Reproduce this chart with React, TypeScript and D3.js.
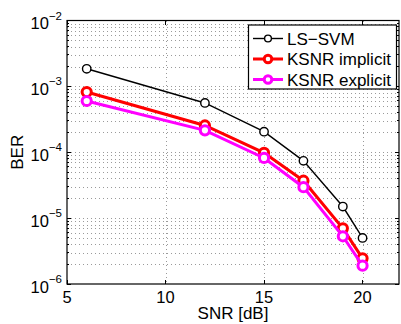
import React from "react";
import * as d3 from "d3";

// SNR values (dB) and BER per method
const snr = [6, 12, 15, 17, 19, 20];
const berLsSvm = [1.85e-3, 5.6e-4, 2.05e-4, 7.4e-5, 1.5e-5, 5.0e-6];
const berImplicit = [8.2e-4, 2.55e-4, 9.8e-5, 3.7e-5, 7.0e-6, 2.45e-6];
const berExplicit = [6.0e-4, 2.15e-4, 8.2e-5, 2.95e-5, 5.3e-6, 1.9e-6];

const seriesNames = ["LS\u2212SVM", "KSNR implicit", "KSNR explicit"];
const xTicks = [5, 10, 15, 20];
const yExponents = [-2, -3, -4, -5, -6];

const W = 401;
const H = 324;
const plot = { left: 67, right: 399, top: 20.5, bottom: 284 };
const font = "'Liberation Sans', Arial, Helvetica, sans-serif";

export default function App() {
  const x = d3.scaleLinear().domain([5, 21.85]).range([plot.left, plot.right]);
  const y = d3.scaleLog().domain([1e-6, 1e-2]).range([plot.bottom, plot.top]);

  const series = [
    { name: seriesNames[0], values: berLsSvm, color: "#000000", width: 1.4, r: 4.2 },
    { name: seriesNames[1], values: berImplicit, color: "#ff0000", width: 3, r: 4.6 },
    { name: seriesNames[2], values: berExplicit, color: "#ff00ff", width: 3, r: 4.6 },
  ];

  const line = d3
    .line<[number, number]>()
    .x((d) => x(d[0]))
    .y((d) => y(d[1]));

  // minor log ticks 2..9 in each decade
  const minor: number[] = [];
  for (let e = -6; e < -2; e++) {
    for (let m = 2; m <= 9; m++) minor.push(m * Math.pow(10, e));
  }
  const major = yExponents.map((e) => Math.pow(10, e));

  const grid = { stroke: "#9a9a9a", strokeWidth: 1, strokeDasharray: "1,3" };

  return (
    <svg
      width={W}
      height={H}
      style={{ position: "absolute", left: 0, top: 0, background: "#fff" }}
      fontFamily={font}
    >
      <rect x={0} y={0} width={W} height={H} fill="#fff" />
      {/* grid */}
      <g shapeRendering="crispEdges">
        {[...minor, ...major.slice(1, -1)].map((v, i) => (
          <line key={"gy" + i} x1={plot.left} x2={plot.right} y1={Math.round(y(v)) + 0.5} y2={Math.round(y(v)) + 0.5} {...grid} />
        ))}
        {xTicks.slice(1).map((v) => (
          <line key={"gx" + v} x1={Math.round(x(v)) + 0.5} x2={Math.round(x(v)) + 0.5} y1={plot.top} y2={plot.bottom} {...grid} />
        ))}
      </g>
      {/* ticks */}
      <g stroke="#000" strokeWidth={1} shapeRendering="crispEdges">
        {xTicks.map((v) => (
          <g key={"tx" + v}>
            <line x1={x(v)} x2={x(v)} y1={plot.bottom} y2={plot.bottom - 4} />
            <line x1={x(v)} x2={x(v)} y1={plot.top} y2={plot.top + 4} />
          </g>
        ))}
        {major.map((v) => (
          <g key={"ty" + v}>
            <line x1={plot.left} x2={plot.left + 4} y1={y(v)} y2={y(v)} />
            <line x1={plot.right} x2={plot.right - 4} y1={y(v)} y2={y(v)} />
          </g>
        ))}
        {minor.map((v, i) => (
          <g key={"tm" + i}>
            <line x1={plot.left} x2={plot.left + 2} y1={y(v)} y2={y(v)} />
            <line x1={plot.right} x2={plot.right - 2} y1={y(v)} y2={y(v)} />
          </g>
        ))}
      </g>
      {/* data */}
      {series.map((s) => {
        const pts = snr.map((v, i) => [v, s.values[i]] as [number, number]);
        return (
          <g key={s.name}>
            <path d={line(pts) || ""} fill="none" stroke={s.color} strokeWidth={s.width} />
            {pts.map((p, i) => (
              <circle key={i} cx={x(p[0])} cy={y(p[1])} r={s.r} fill="#fff" stroke={s.color} strokeWidth={s.width} />
            ))}
          </g>
        );
      })}
      {/* box */}
      <rect
        x={plot.left}
        y={plot.top}
        width={plot.right - plot.left}
        height={plot.bottom - plot.top}
        fill="none"
        stroke="#000"
        strokeWidth={1.2}
      />
      {/* tick labels */}
      {xTicks.map((v) => (
        <text key={"lx" + v} x={x(v)} y={302.7} textAnchor="middle" fontSize={16.5}>
          {v}
        </text>
      ))}
      {yExponents.map((e) => (
        <text key={"ly" + e} x={62} y={y(Math.pow(10, e)) + 8.5} textAnchor="end" fontSize={16.5}>
          10
          <tspan dy={-9.5} fontSize={11.5}>
            {"\u2212" + Math.abs(e)}
          </tspan>
        </text>
      ))}
      <text x={(plot.left + plot.right) / 2} y={319.3} textAnchor="middle" fontSize={17}>
        SNR [dB]
      </text>
      <text
        transform={`translate(23,${(plot.top + plot.bottom) / 2}) rotate(-90)`}
        textAnchor="middle"
        fontSize={17}
      >
        BER
      </text>
      {/* legend */}
      <g>
        <rect x={248.5} y={25} width={148} height={64} fill="#fff" stroke="#000" strokeWidth={1.2} />
        {series.map((s, i) => {
          const ly = 38.5 + i * 20.5;
          return (
            <g key={"lg" + s.name}>
              <line x1={253} x2={283} y1={ly} y2={ly} stroke={s.color} strokeWidth={s.width} />
              <circle cx={268} cy={ly} r={s.r - 0.8} fill="#fff" stroke={s.color} strokeWidth={s.width} />
              <text x={287} y={ly + 6} fontSize={17}>
                {s.name}
              </text>
            </g>
          );
        })}
      </g>
    </svg>
  );
}
